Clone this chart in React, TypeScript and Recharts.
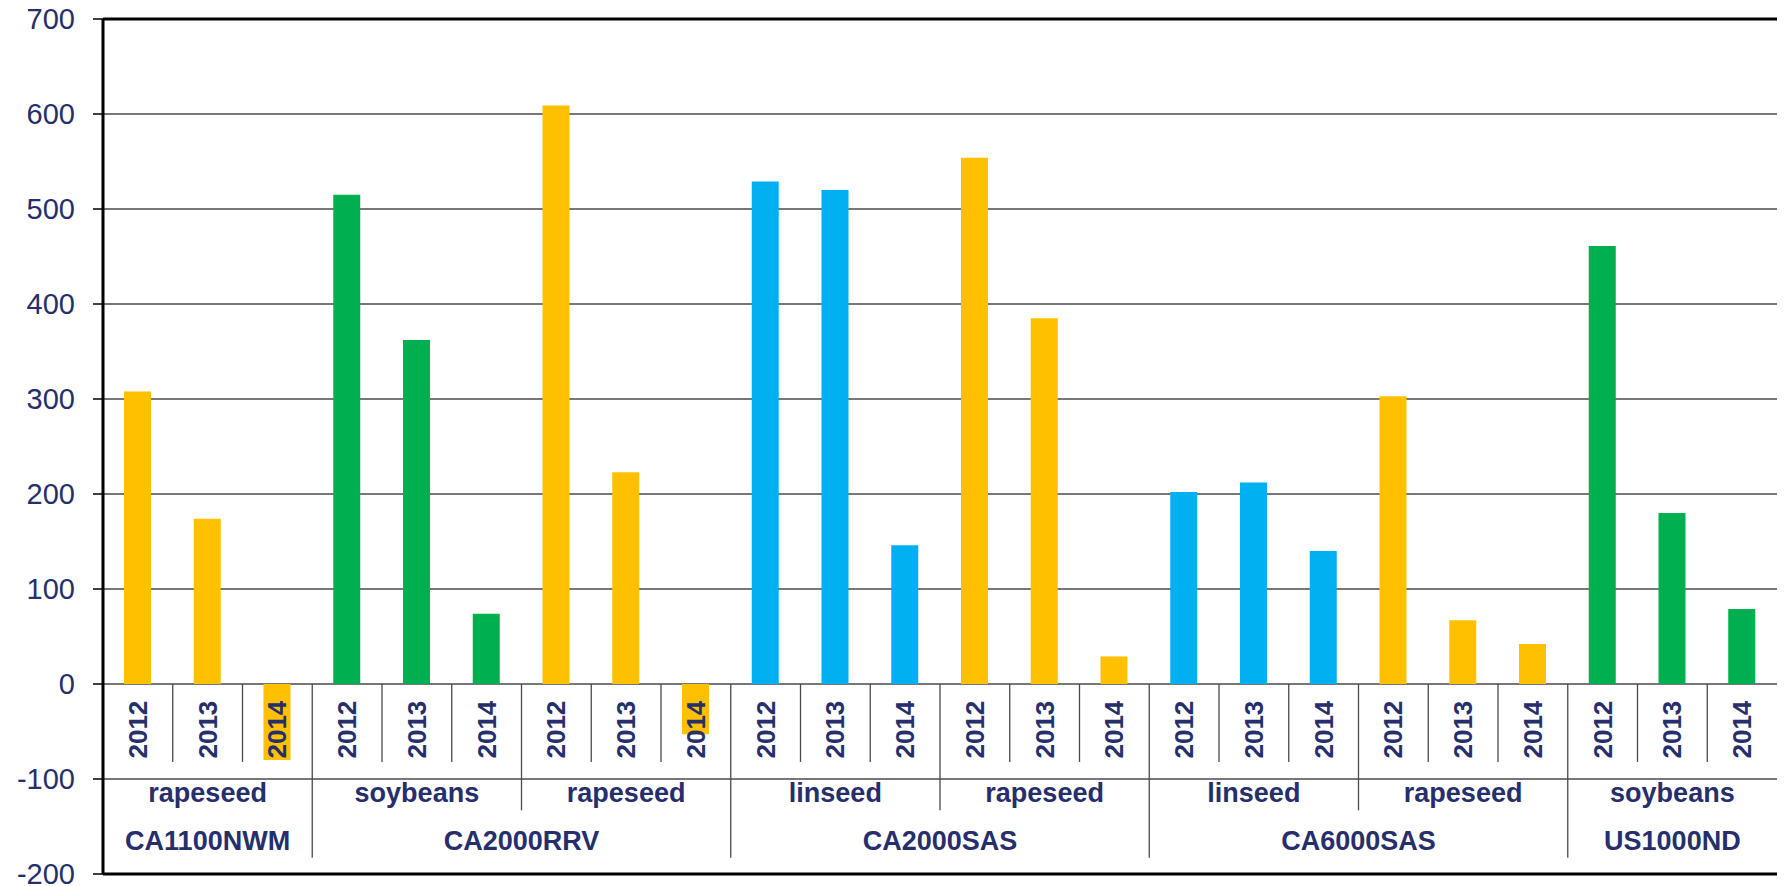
import React from "react"
import { Bar, BarChart, CartesianGrid, Cell, ReferenceLine, XAxis, YAxis } from "recharts"

const years = ["2012", "2013", "2014"]
const crops = ["rapeseed", "soybeans", "rapeseed", "linseed", "rapeseed", "linseed", "rapeseed", "soybeans"]
const sites = ["CA1100NWM", "CA2000RRV", "CA2000RRV", "CA2000SAS", "CA2000SAS", "CA6000SAS", "CA6000SAS", "US1000ND"]
const values = [
  308, 174, -80,
  515, 362, 74,
  609, 223, -53,
  529, 520, 146,
  554, 385, 29,
  202, 212, 140,
  303, 67, 42,
  461, 180, 79,
]
const yTicks = [-200, -100, 0, 100, 200, 300, 400, 500, 600, 700]

const cropColors: Record<string, string> = {
  rapeseed: "#FFC000",
  soybeans: "#00B050",
  linseed: "#00B0F0",
}

const data = values.map((value, i) => ({
  id: String(i),
  year: years[i % 3],
  crop: crops[Math.floor(i / 3)],
  site: sites[Math.floor(i / 3)],
  value,
}))

const WIDTH = 1785
const HEIGHT = 886
const MARGIN = { top: 19, right: 8, bottom: 11, left: 0 }
const X_AXIS_H = 1
const Y_AXIS_W = 103
const PLOT_W = WIDTH - MARGIN.left - MARGIN.right - Y_AXIS_W
const PLOT_H = HEIGHT - MARGIN.top - MARGIN.bottom - X_AXIS_H
const Y_MIN = -200
const Y_MAX = 700

const NAVY = "#262E6C"
const FONT = "'Liberation Sans', Arial, sans-serif"
const LINE = "#4a4a4a"

// same linear mapping as the value axis, used to place the table labels inside the plot
const yOf = (v: number) => MARGIN.top + ((Y_MAX - v) / (Y_MAX - Y_MIN)) * PLOT_H

function CategoryTick(props: any) {
  const { x, payload } = props
  const index = payload ? Number(payload.value) : Number(props.index)
  const d = data[index]
  if (!d) return <g />
  const band = payload && payload.offset ? payload.offset * 2 : PLOT_W / data.length
  const y0 = yOf(0)
  const left = x - band / 2
  const parts: React.ReactNode[] = []

  if (index > 0) {
    const prev = data[index - 1]
    let bottom = -82
    if (prev.site !== d.site) bottom = -183
    else if (Math.floor((index - 1) / 3) !== Math.floor(index / 3)) bottom = -133
    parts.push(<line key="div" x1={left} x2={left} y1={y0} y2={yOf(bottom)} stroke={LINE} strokeWidth={1.3} />)
  }

  const yy = yOf(-48)
  parts.push(
    <text
      key="year"
      x={x}
      y={yy}
      transform={`rotate(-90 ${x} ${yy})`}
      textAnchor="middle"
      dominantBaseline="central"
      fontSize={26}
      fontWeight="bold"
      fontFamily={FONT}
      fill={NAVY}
    >
      {d.year}
    </text>
  )

  if (index % 3 === 1) {
    parts.push(
      <text key="crop" x={x} y={yOf(-124)} textAnchor="middle" fontSize={27} fontWeight="bold" fontFamily={FONT} fill={NAVY}>
        {d.crop}
      </text>
    )
  }

  if (index === 0 || data[index - 1].site !== d.site) {
    const n = data.filter((e) => e.site === d.site).length
    parts.push(
      <text
        key="site"
        x={x + ((n - 1) / 2) * band}
        y={yOf(-175)}
        textAnchor="middle"
        fontSize={27}
        fontWeight="bold"
        fontFamily={FONT}
        fill={NAVY}
      >
        {d.site}
      </text>
    )
  }

  return <g>{parts}</g>
}

export default function App() {
  return (
    <div style={{ position: "absolute", left: 0, top: 0, background: "#fff" }}>
      <BarChart width={WIDTH} height={HEIGHT} data={data} margin={MARGIN}>
        <CartesianGrid vertical={false} stroke={LINE} strokeWidth={1.3} />
        <YAxis
          type="number"
          domain={[Y_MIN, Y_MAX]}
          ticks={yTicks}
          interval={0}
          width={Y_AXIS_W}
          tickSize={10}
          tickMargin={18}
          axisLine={{ stroke: "#000", strokeWidth: 3 }}
          tickLine={{ stroke: "#000", strokeWidth: 1.5 }}
          tick={{ fill: NAVY, fontSize: 29, fontFamily: FONT }}
          allowDataOverflow
        />
        <YAxis
          yAxisId="right"
          orientation="right"
          width={0}
          domain={[Y_MIN, Y_MAX]}
          tick={false}
          tickLine={false}
          axisLine={{ stroke: "#222", strokeWidth: 3 }}
        />
        <Bar dataKey="value" barSize={27} isAnimationActive={false}>
          {data.map((d) => (
            <Cell key={d.id} fill={cropColors[d.crop]} />
          ))}
        </Bar>
        <ReferenceLine y={Y_MAX} stroke="#000" strokeWidth={3} />
        <ReferenceLine y={Y_MIN} stroke="#000" strokeWidth={3} />
        <XAxis
          dataKey="id"
          height={X_AXIS_H}
          interval={0}
          axisLine={false}
          tickLine={false}
          tick={(p: any) => <CategoryTick {...p} />}
        />
      </BarChart>
    </div>
  )
}
